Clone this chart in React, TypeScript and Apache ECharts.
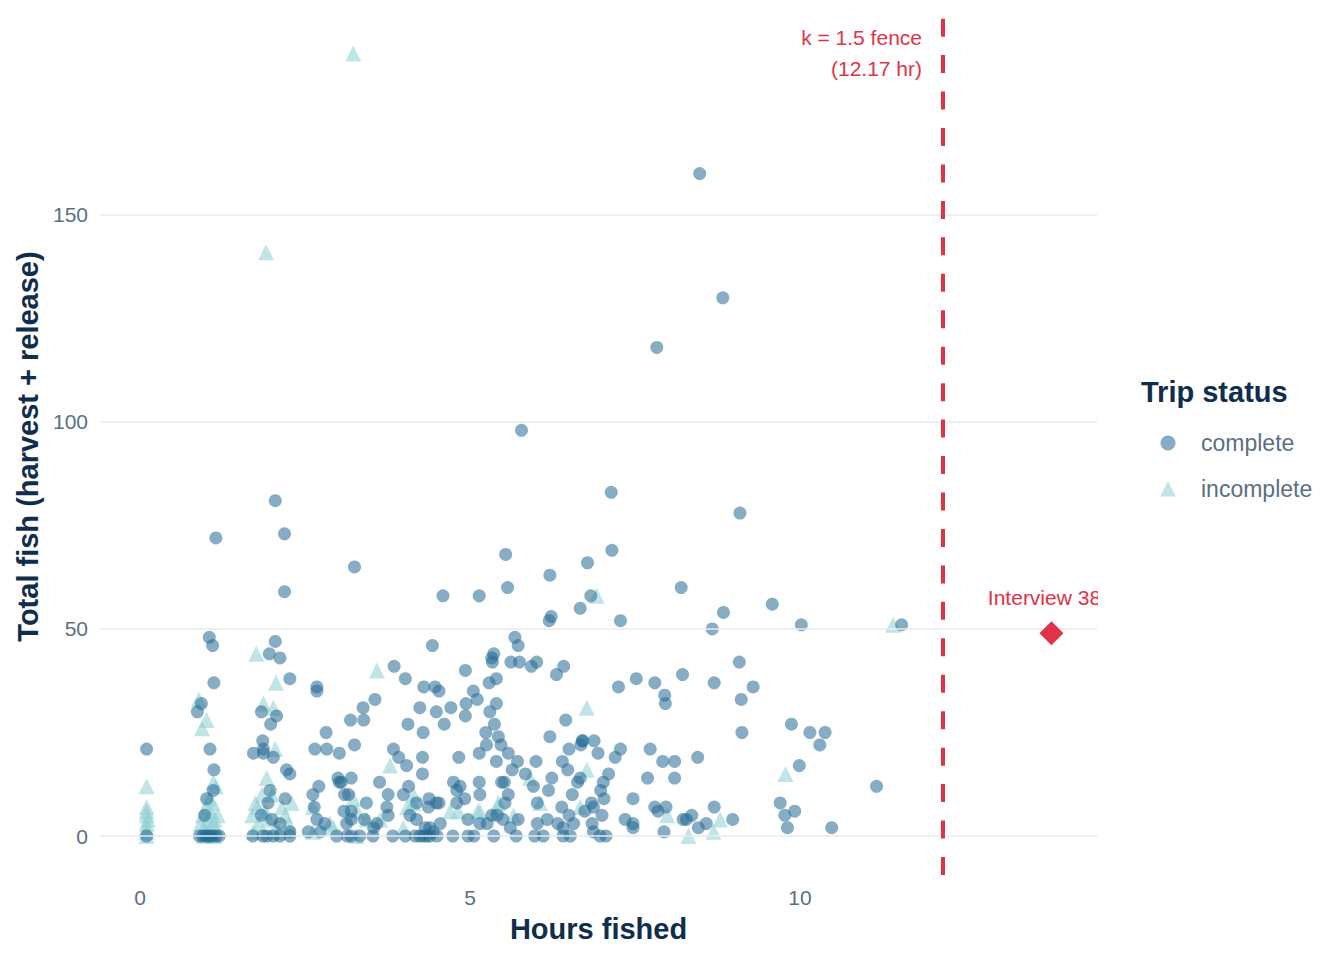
import React, { useEffect, useRef } from "react";
import * as echarts from "echarts";

// [hours fished, total fish]
const completeTrips: [number, number][] = [
  [8.48, 160], [8.83, 130], [7.83, 118], [5.78, 98], [7.14, 83], [2.05, 81], [9.09, 78], [2.19, 73], [1.15, 72],
  [7.15, 69], [5.54, 68], [6.78, 66], [3.25, 65], [6.21, 63], [8.2, 60], [5.57, 60], [2.19, 59], [4.59, 58],
  [5.14, 58], [6.83, 58], [9.58, 56], [6.67, 55], [8.84, 54], [6.23, 53], [6.2, 52], [7.28, 52], [10.02, 51],
  [11.54, 51], [8.67, 50], [1.05, 48], [5.68, 48], [2.05, 47], [1.1, 46], [4.43, 46], [5.73, 46], [5.36, 44],
  [1.96, 44], [5.34, 42], [5.33, 43], [2.12, 43], [5.62, 42], [5.75, 42], [5.93, 41], [6.01, 42], [9.08, 42],
  [3.85, 41], [6.42, 41], [4.93, 40], [8.22, 39], [6.31, 39], [4.02, 38], [2.27, 38], [5.4, 38], [7.52, 38],
  [1.12, 37], [5.29, 37], [7.8, 37], [8.7, 37], [2.68, 36], [4.3, 36], [4.47, 36], [7.25, 36], [9.29, 36],
  [2.68, 35], [4.53, 35], [5.05, 35], [7.95, 34], [3.56, 33], [5.11, 33], [9.11, 33], [0.93, 32], [7.96, 32],
  [5.4, 32], [4.94, 32], [3.38, 31], [4.24, 31], [4.71, 31], [0.87, 30], [1.84, 30], [4.49, 30], [5.3, 30],
  [4.93, 29], [2.07, 29], [3.19, 28], [3.39, 28], [6.45, 28], [4.06, 27], [4.61, 27], [5.37, 27], [1.98, 27],
  [9.87, 27], [2.82, 25], [4.29, 25], [5.24, 25], [9.12, 25], [10.15, 25], [10.38, 25], [5.43, 24], [6.21, 24],
  [1.86, 23], [6.7, 23], [6.71, 23], [6.88, 23], [3.25, 22], [5.47, 22], [5.25, 22], [6.68, 22], [10.3, 22],
  [0.1, 21], [1.06, 21], [1.87, 21], [2.65, 21], [2.83, 21], [3.84, 21], [6.5, 21], [7.28, 21], [7.73, 21],
  [1.72, 20], [1.87, 20], [3.02, 20], [5.14, 20], [5.58, 20], [6.94, 20], [2.02, 19], [3.92, 19], [4.28, 19],
  [4.83, 19], [7.2, 19], [8.45, 19], [5.4, 18], [5.72, 18], [6.0, 18], [6.4, 18], [7.92, 18], [8.1, 18],
  [4.04, 17], [9.99, 17], [1.12, 16], [2.22, 16], [5.64, 16], [6.48, 16], [2.27, 15], [4.28, 15], [5.84, 15],
  [7.1, 15], [3.0, 14], [3.2, 14], [6.24, 14], [6.67, 14], [7.69, 14], [8.1, 14], [3.02, 13], [3.05, 13],
  [3.63, 13], [4.75, 13], [5.14, 13], [5.48, 13], [5.52, 13], [6.63, 13], [7.02, 13], [2.71, 12], [4.07, 12],
  [4.85, 12], [5.96, 12], [11.16, 12], [1.11, 11], [1.97, 11], [4.8, 11], [6.19, 11], [6.98, 11], [2.62, 10],
  [3.1, 10], [3.16, 10], [3.76, 10], [3.99, 10], [5.15, 10], [5.58, 10], [6.55, 10], [1.01, 9], [2.2, 9],
  [4.38, 9], [4.92, 9], [7.03, 9], [7.47, 9], [1.94, 8], [3.43, 8], [4.19, 8], [4.49, 8], [4.53, 8], [4.8, 8],
  [5.53, 8], [6.02, 8], [6.84, 8], [9.7, 8], [2.64, 7], [3.74, 7], [4.37, 7], [6.39, 7], [6.87, 7], [7.8, 7],
  [7.97, 7], [8.7, 7], [3.09, 6], [3.2, 6], [6.74, 6], [7.85, 6], [9.92, 6], [0.98, 5], [1.84, 5], [3.76, 5],
  [4.09, 5], [6.5, 5], [7.0, 5], [8.36, 5], [9.77, 5], [5.33, 5], [5.41, 5], [2.0, 4], [2.68, 4], [3.2, 4],
  [3.4, 4], [4.19, 4], [7.35, 4], [8.23, 4], [8.28, 4], [8.98, 4], [4.97, 4], [5.5, 4], [5.73, 4], [6.17, 4],
  [2.12, 3], [2.8, 3], [3.13, 3], [3.59, 3], [4.55, 3], [6.57, 3], [6.85, 3], [7.47, 3], [8.58, 3], [5.15, 3],
  [5.26, 3], [6.02, 3], [6.33, 3], [3.54, 2], [4.32, 2], [4.39, 2], [7.47, 2], [8.46, 2], [9.81, 2], [10.48, 2],
  [5.61, 2], [6.41, 2], [2.27, 1], [2.55, 1], [2.73, 1], [4.44, 1], [6.87, 1], [7.94, 1],
  [0.1, 0], [0.9, 0], [0.95, 0], [1.0, 0], [1.03, 0], [1.07, 0], [1.1, 0], [1.15, 0], [1.2, 0], [1.71, 0],
  [1.86, 0], [1.92, 0], [2.02, 0], [2.12, 0], [2.27, 0], [2.98, 0], [3.14, 0], [3.2, 0], [3.33, 0], [3.53, 0],
  [3.83, 0], [4.02, 0], [4.17, 0], [4.29, 0], [4.39, 0], [4.5, 0], [4.74, 0], [4.97, 0], [5.06, 0], [5.36, 0],
  [5.7, 0], [5.98, 0], [6.41, 0], [6.97, 0], [7.06, 0], [4.24, 0], [4.34, 0], [6.11, 0], [6.52, 0],
];

const incompleteTrips: [number, number][] = [
  [3.23, 189], [1.91, 141], [1.76, 44], [11.41, 51], [6.92, 58], [3.59, 40], [6.77, 31], [0.89, 33], [2.06, 37],
  [0.94, 26], [1.01, 28], [1.87, 32], [2.02, 31], [2.05, 21], [3.79, 17], [9.78, 15], [6.77, 16], [0.1, 12],
  [1.11, 13], [1.15, 12], [1.92, 14], [2.0, 10], [5.91, 14], [3.23, 9], [3.43, 4], [3.64, 4], [4.14, 10],
  [4.82, 6], [5.15, 6], [5.43, 8], [5.66, 5], [3.99, 2], [3.28, 0], [6.67, 7], [7.99, 5], [8.31, 0], [8.69, 1],
  [8.79, 4], [2.62, 7], [2.88, 3], [2.93, 2], [2.62, 1],
  [0.1, 7], [0.1, 5], [0.1, 6], [0.1, 3], [0.1, 2], [0.1, 1], [0.1, 0], [0.12, 4],
  [0.92, 3], [0.95, 5], [0.98, 2], [1.0, 7], [1.02, 4], [1.05, 1], [1.08, 6], [1.1, 3], [1.12, 0], [1.15, 2],
  [1.18, 5], [0.97, 0], [1.05, 9], [1.1, 8], [1.0, 1], [1.13, 4],
  [1.7, 5], [1.75, 8], [1.8, 3], [1.72, 1], [1.9, 6], [1.95, 4], [2.05, 2], [2.15, 7], [2.2, 5], [2.25, 3],
  [2.1, 1], [1.85, 10], [2.3, 8], [1.78, 7],
  [4.14, 8], [3.29, 6], [4.05, 7], [5.42, 7], [4.7, 6], [5.12, 6], [6.06, 8],
];

const outlierTrips: [number, number][] = [[13.81, 49]];
const outlierLabels = ["Interview 38"];

const fenceHours = 12.17;
const fenceLabel = "k = 1.5 fence\n(12.17 hr)";
const yGridValues = [0, 50, 100, 150];

const FONT = "'Liberation Sans', Arial, Helvetica, sans-serif";
const RED = "#e03347";
const NAVY = "#0f2d4d";
const TICK = "#5a6f86";

export default function App() {
  const ref = useRef<HTMLDivElement>(null);

  useEffect(() => {
    if (!ref.current) return;
    const chart = echarts.init(ref.current, null, { renderer: "svg" });
    const option: any = {
      animation: false,
      textStyle: { fontFamily: FONT },
      grid: { left: 100, right: 247, top: 18, bottom: 85, containLabel: false, outerBoundsMode: "none" },
      xAxis: {
        type: "value",
        min: -0.606,
        max: 14.5,
        splitNumber: 3,
        name: "Hours fished",
        nameLocation: "middle",
        nameGap: 39,
        nameTextStyle: { fontSize: 29, fontWeight: "bold", color: NAVY, fontFamily: FONT },
        axisLine: { show: false },
        axisTick: { show: false },
        splitLine: { show: false },
        axisLabel: {
          fontSize: 21,
          color: TICK,
          margin: 12,
          fontFamily: FONT,
          formatter: (v: number) => (Math.abs(v % 5) < 1e-6 ? String(Math.round(v)) : ""),
        },
      },
      yAxis: {
        type: "value",
        min: -9.42,
        max: 197.58,
        splitNumber: 4,
        name: "Total fish (harvest + release)",
        nameLocation: "middle",
        nameGap: 58,
        nameTextStyle: { fontSize: 29, fontWeight: "bold", color: NAVY, fontFamily: FONT },
        axisLine: { show: false },
        axisTick: { show: false },
        splitLine: { show: false },
        axisLabel: {
          fontSize: 21,
          color: TICK,
          margin: 12,
          fontFamily: FONT,
          formatter: (v: number) => (Math.abs(v % 50) < 1e-6 ? String(Math.round(v)) : ""),
        },
      },
      legend: {
        data: ["complete", "incomplete"],
        orient: "vertical",
        left: 1155,
        top: 425,
        itemWidth: 16,
        itemHeight: 15,
        itemGap: 20,
        textStyle: { fontSize: 23, color: TICK, lineHeight: 26, fontFamily: FONT, padding: [0, 0, 0, 20] },
      },
      graphic: [
        {
          type: "text",
          left: 1141,
          top: 377,
          style: { text: "Trip status", fontSize: 29, fontWeight: "bold", fill: NAVY, fontFamily: FONT },
        },
        {
          type: "text",
          x: 922,
          y: 22,
          style: {
            text: fenceLabel,
            fontSize: 21,
            lineHeight: 31,
            fill: RED,
            align: "right",
            verticalAlign: "top",
            fontFamily: FONT,
          },
        },
        {
          type: "rect",
          z: 100,
          shape: { x: 1098, y: 580, width: 34, height: 36 },
          style: { fill: "#ffffff" },
          silent: true,
        },
      ],
      series: [
        {
          name: "grid",
          type: "scatter",
          data: [],
          z: 1,
          silent: true,
          markLine: {
            silent: true,
            symbol: ["none", "none"],
            label: { show: false },
            lineStyle: { color: "#e7eaef", width: 1.5, type: "solid" },
            data: yGridValues.map((v) => ({ yAxis: v })),
          },
        },
        {
          name: "incomplete",
          type: "scatter",
          symbol: "triangle",
          symbolSize: 16,
          z: 2,
          itemStyle: { color: "#8ecfd1", opacity: 0.55 },
          data: incompleteTrips,
        },
        {
          name: "complete",
          type: "scatter",
          symbol: "circle",
          symbolSize: 13,
          z: 3,
          itemStyle: { color: "#236993", opacity: 0.55 },
          data: completeTrips,
        },
        {
          name: "fence",
          type: "scatter",
          data: [],
          z: 4,
          silent: true,
          markLine: {
            silent: true,
            symbol: ["none", "none"],
            label: { show: false },
            lineStyle: { color: RED, width: 4, type: [18, 18.45] },
            data: [{ xAxis: fenceHours }],
          },
        },
        {
          name: "outlier",
          type: "scatter",
          symbol: "diamond",
          symbolSize: 24,
          z: 5,
          itemStyle: { color: RED, opacity: 1 },
          data: outlierTrips.map((d, i) => ({
            value: d,
            label: {
              show: true,
              formatter: outlierLabels[i],
              position: "top",
              distance: 13,
              offset: [-7, 0],
              fontSize: 21,
              color: RED,
              fontFamily: FONT,
            },
          })),
        },
      ],
    };
    chart.setOption(option);
    return () => chart.dispose();
  }, []);

  return <div ref={ref} style={{ position: "absolute", left: 0, top: 0, width: 1344, height: 960 }} />;
}
